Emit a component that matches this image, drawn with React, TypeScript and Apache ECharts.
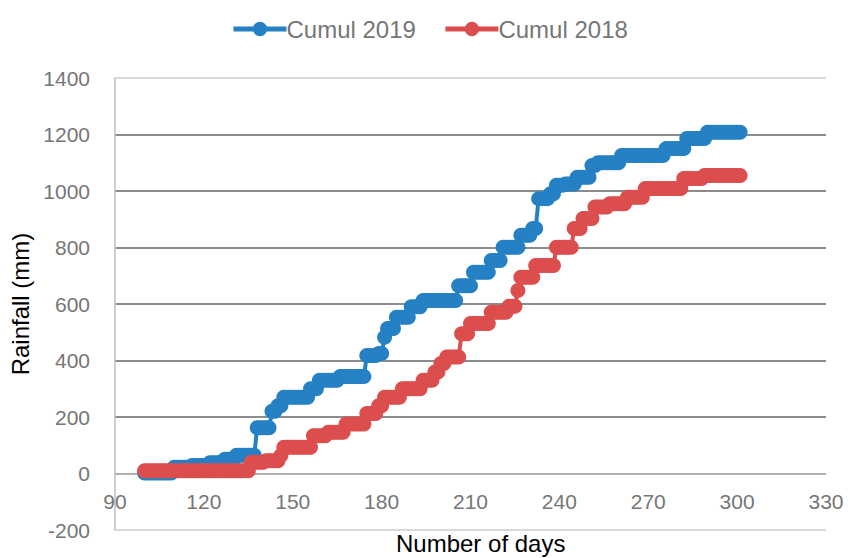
import React, { useEffect, useRef } from "react";
import * as echarts from "echarts";

const firstDay = 100;
const xTicks = [90, 120, 150, 180, 210, 240, 270, 300, 330];
const yTicks = [-200, 0, 200, 400, 600, 800, 1000, 1200, 1400];

const cumul2019 = [
  2, 2, 2, 2, 2, 2, 2, 2, 2, 2,
  22, 22, 22, 22, 22, 22, 28, 28, 28, 28,
  28, 28, 38, 38, 38, 38, 38, 50, 50, 50,
  50, 65, 65, 65, 65, 65, 65, 65, 162, 162,
  162, 162, 162, 220, 220, 240, 240, 270, 270, 270,
  270, 270, 270, 270, 270, 270, 300, 300, 300, 330,
  330, 330, 330, 330, 330, 330, 343, 343, 343, 343,
  343, 343, 343, 343, 343, 418, 418, 418, 418, 425,
  425, 482, 513, 513, 513, 553, 553, 553, 553, 553,
  590, 590, 590, 590, 612, 612, 612, 612, 612, 612,
  612, 612, 612, 612, 612, 612, 665, 665, 665, 665,
  665, 712, 712, 712, 712, 712, 712, 754, 754, 754,
  754, 801, 801, 801, 801, 801, 801, 843, 843, 843,
  843, 867, 867, 973, 973, 973, 973, 990, 990, 1020,
  1020, 1020, 1025, 1025, 1025, 1025, 1049, 1049, 1049, 1049,
  1049, 1090, 1090, 1100, 1100, 1100, 1100, 1100, 1100, 1100,
  1100, 1126, 1126, 1126, 1126, 1126, 1126, 1126, 1126, 1126,
  1126, 1126, 1126, 1126, 1126, 1126, 1150, 1150, 1150, 1150,
  1150, 1150, 1150, 1186, 1186, 1186, 1186, 1186, 1186, 1186,
  1208, 1208, 1208, 1208, 1208, 1208, 1208, 1208, 1208, 1208,
  1208, 1208,
];

const cumul2018 = [
  10, 10, 10, 10, 10, 10, 10, 10, 10, 10,
  10, 10, 10, 10, 10, 10, 10, 10, 10, 10,
  10, 10, 10, 10, 10, 10, 10, 10, 10, 10,
  10, 10, 10, 10, 10, 10, 40, 40, 40, 40,
  40, 45, 45, 45, 45, 45, 64, 93, 93, 93,
  93, 93, 93, 93, 93, 93, 93, 134, 134, 134,
  134, 134, 146, 146, 146, 146, 146, 146, 175, 175,
  175, 175, 175, 175, 175, 212, 212, 212, 212, 240,
  240, 270, 270, 270, 270, 270, 270, 300, 300, 300,
  300, 300, 300, 300, 330, 330, 330, 330, 359, 359,
  389, 389, 412, 412, 412, 412, 412, 495, 495, 495,
  531, 531, 531, 531, 531, 531, 531, 571, 571, 571,
  571, 571, 571, 592, 592, 592, 648, 695, 695, 695,
  695, 695, 736, 736, 736, 736, 736, 736, 736, 801,
  801, 801, 801, 801, 801, 867, 867, 867, 903, 903,
  903, 903, 943, 943, 943, 943, 943, 955, 955, 955,
  955, 955, 955, 978, 978, 978, 978, 978, 978, 1009,
  1009, 1009, 1009, 1009, 1009, 1009, 1009, 1009, 1009, 1009,
  1009, 1009, 1044, 1044, 1044, 1044, 1044, 1044, 1044, 1055,
  1055, 1055, 1055, 1055, 1055, 1055, 1055, 1055, 1055, 1055,
  1055, 1055,
];

const seriesNames = ["Cumul 2019", "Cumul 2018"];
const seriesColors = ["#2581c4", "#dc4e4d"];

const FONT = "'Liberation Sans', Arial, sans-serif";

const GRID_TOP = 78;
const GRID_BOTTOM = 28;
const CHART_H = 558;

export default function App() {
  const ref = useRef<HTMLDivElement>(null);
  useEffect(() => {
    if (!ref.current) return;
    const chart = echarts.init(ref.current, undefined, { renderer: "svg" });
    const toPairs = (vals: number[]) => vals.map((v, i) => [firstDay + i, v]);
    const gridColors = yTicks.map((t, i) =>
      i === 0 || i === yTicks.length - 1 ? "#d9d9d9" : t === 0 ? "#b0b0b0" : "#8c8c8c"
    );
    const plotH = CHART_H - GRID_TOP - GRID_BOTTOM;
    const yMin = yTicks[0];
    const yMax = yTicks[yTicks.length - 1];
    const zeroOffset = -((0 - yMin) / (yMax - yMin)) * plotH;
    chart.setOption({
      animation: false,
      textStyle: { fontFamily: FONT },
      legend: {
        left: 226,
        top: 12,
        itemWidth: 53,
        itemHeight: 18,
        itemGap: 27,
        data: seriesNames,
        lineStyle: { width: 5 },
        textStyle: { color: "#767676", fontSize: 24, fontFamily: FONT, padding: [0, 0, 0, -5] },
      },
      grid: {
        left: 115,
        right: 24,
        top: GRID_TOP,
        bottom: GRID_BOTTOM,
        containLabel: false,
        outerBoundsMode: "none",
      },
      xAxis: {
        type: "value",
        position: "bottom",
        offset: zeroOffset,
        min: xTicks[0],
        max: xTicks[xTicks.length - 1],
        interval: 30,
        axisLine: { show: true, onZero: false, lineStyle: { color: "#b0b0b0", width: 1 } },
        axisTick: { show: false },
        splitLine: { show: false },
        axisLabel: {
          color: "#767676",
          fontSize: 21,
          margin: 17,
          fontFamily: FONT,
          formatter: (v: number) => String(v),
        },
      },
      yAxis: {
        type: "value",
        min: yMin,
        max: yMax,
        interval: 200,
        name: "Rainfall (mm)",
        nameLocation: "middle",
        nameGap: 82,
        nameTextStyle: { color: "#000", fontSize: 24, fontFamily: FONT },
        axisLine: { show: true, onZero: false, lineStyle: { color: "#bfbfbf", width: 1.5 } },
        axisTick: { show: false },
        splitLine: { show: true, lineStyle: { color: gridColors, width: 1.8 } },
        axisLabel: {
          color: "#767676",
          fontSize: 21,
          margin: 25,
          fontFamily: FONT,
          formatter: (v: number) => String(v),
        },
      },
      graphic: [
        {
          type: "text",
          left: 396,
          top: 531,
          style: { text: "Number of days", fill: "#000", fontSize: 24, fontFamily: FONT },
        },
      ],
      series: [cumul2019, cumul2018].map((vals, i) => ({
        name: seriesNames[i],
        type: "line",
        data: toPairs(vals),
        symbol: "circle",
        symbolSize: 15,
        showSymbol: true,
        lineStyle: { color: seriesColors[i], width: 4 },
        itemStyle: { color: seriesColors[i] },
        z: 2 + i,
      })),
    });
    return () => chart.dispose();
  }, []);
  return <div ref={ref} style={{ width: 850, height: 558, position: "absolute", left: 0, top: 0 }} />;
}
